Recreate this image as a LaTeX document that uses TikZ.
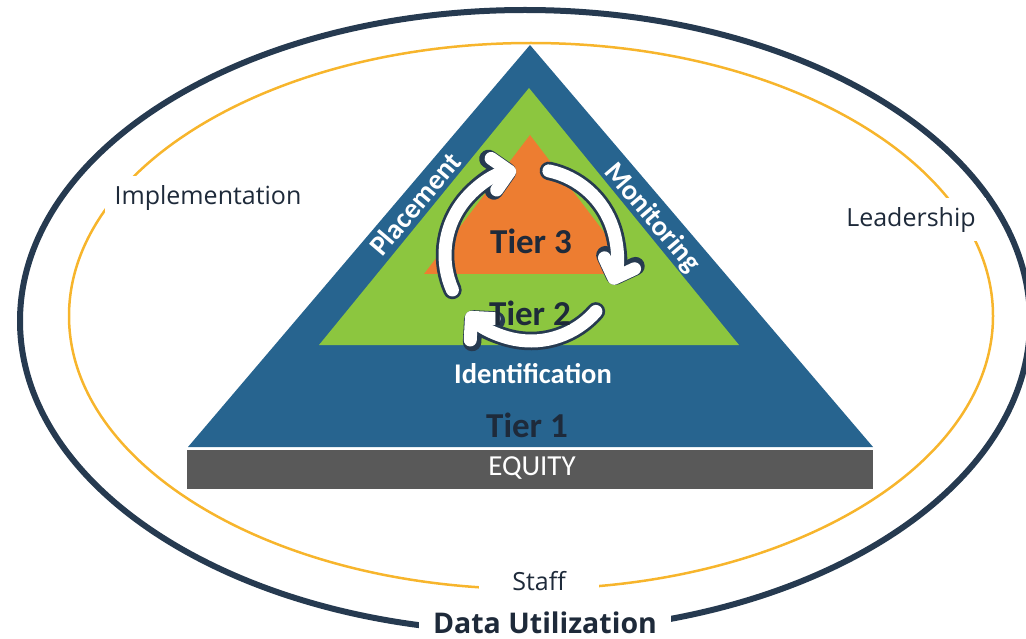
\documentclass[tikz,border=0pt]{standalone}
\usepackage{fontspec}
\setmainfont{Carlito}
\newfontfamily\ringfont{Open Sans}
\usetikzlibrary{arrows.meta}
\definecolor{tierblue}{HTML}{27648F}
\definecolor{tiergreen}{HTML}{8CC63F}
\definecolor{tierorange}{HTML}{ED7D31}
\definecolor{equitygray}{HTML}{595959}
\definecolor{ringnavy}{HTML}{263A50}
\definecolor{ringgold}{HTML}{F7B52C}
\definecolor{textnavy}{HTML}{1E2A3A}

\begin{document}
\begin{tikzpicture}[x=1pt,y=-1pt,
	ringlabel/.style={font=\ringfont\fontsize{25}{30}\selectfont,text=textnavy,fill=white,inner xsep=10pt,inner ysep=9pt},
	tierlabel/.style={font=\bfseries\fontsize{35}{40}\selectfont,text=textnavy,inner sep=0pt},
	sidelabel/.style={font=\bfseries\fontsize{28.5}{32}\selectfont,text=white,inner sep=0pt},
	cycdark/.style={draw=ringnavy,line width=18.5pt,line cap=round,-{Straight Barb[length=16pt 0,width=32pt 0,round]}},
	cycwhite/.style={draw=white,line width=13pt,line cap=round,-{Straight Barb[length=16pt 0,width=32pt 0,round]}}]
	\useasboundingbox (0,0) rectangle (1026,639);
	\draw[ringnavy,line width=6pt] (525,321) ellipse [x radius=505,y radius=311];
	\draw[ringgold,line width=2.5pt] (531,316) ellipse [x radius=462,y radius=273];
	\draw[fill=tierblue,draw=none] (530,45) -- (873,447) -- (188,447) -- cycle;
	\draw[fill=tiergreen,draw=none] (529,88) -- (739,345) -- (319,345) -- cycle;
	\draw[fill=tierorange,draw=none] (530,135) -- (636,274) -- (424,274) -- cycle;
	\draw[fill=equitygray,draw=white,line width=.6pt] (186,449) rectangle (873,489);
	\coordinate (cyc) at (531,255);
	\foreach \st/\en in {156/260,282/380,41/138}{
		\draw[cycdark] (cyc) ++(\st:86) arc[start angle=\st,end angle=\en,radius=86];
		\draw[cycwhite] (cyc) ++(\st:86) arc[start angle=\st,end angle=\en,radius=86];
	}
	\node[tierlabel] (tierthree) at (531,241) {Tier 3};
	\node[tierlabel] (tiertwo) at (530,313) {Tier 2};
	\node[tierlabel] (tierone) at (527,425) {Tier 1};
	\node[sidelabel] (identification) at (533,374) {Identification};
	\node[sidelabel,rotate=49.6] (placement) at (415,204) {Placement};
	\node[sidelabel,rotate=-49.6] (monitoring) at (652,218) {Monitoring};
	\node[font=\fontsize{29}{32}\selectfont,text=white,inner sep=0pt] (equity) at (532,468) {EQUITY};
	\node[ringlabel] (implementation) at (208,198) {Implementation};
	\node[ringlabel] (leadership) at (911,220) {Leadership};
	\node[ringlabel,inner xsep=33pt] (staff) at (539,581) {Staff};
	\node[ringlabel,font=\ringfont\bfseries\fontsize{28.5}{32}\selectfont,inner xsep=14pt,inner ysep=2pt] (datause) at (545,623) {Data Utilization};
\end{tikzpicture}
\end{document}
